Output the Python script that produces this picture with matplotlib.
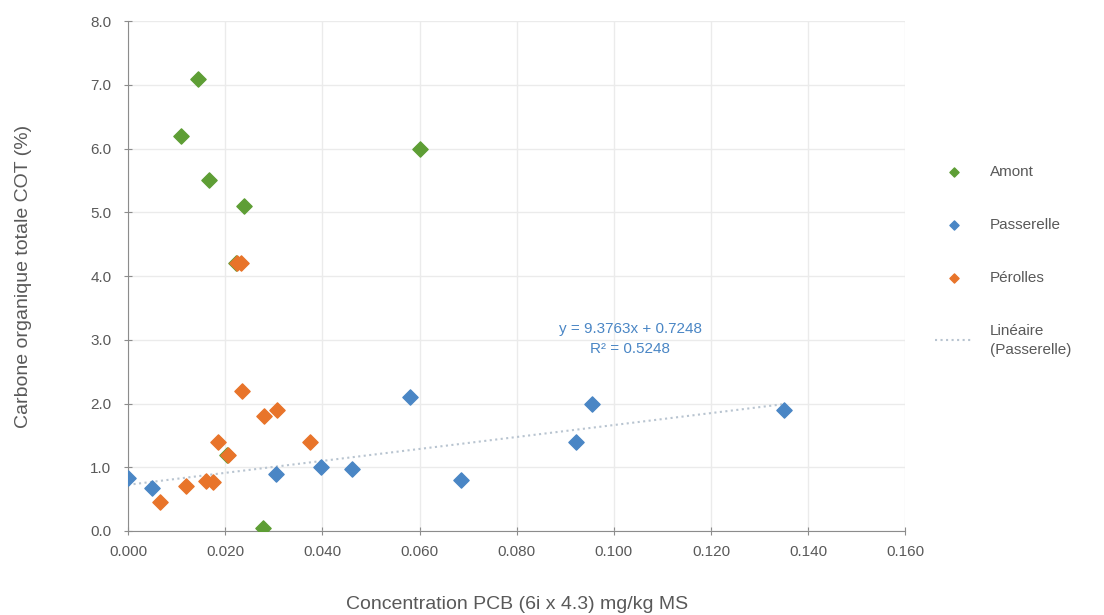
import matplotlib
matplotlib.use("Agg")
import matplotlib.pyplot as plt
import numpy as np

plt.rcParams['font.family'] = ['Liberation Sans', 'DejaVu Sans']

# Amont
amont_x = [0.0109, 0.0144, 0.0167, 0.0239, 0.0222, 0.0601, 0.0278, 0.0204]
amont_y = [6.2, 7.1, 5.5, 5.1, 4.2, 6.0, 0.05, 1.2]

# Passerelle
pass_x = [0.000, 0.0049, 0.0305, 0.0398, 0.0461, 0.0581, 0.0686, 0.0923, 0.0956, 0.135]
pass_y = [0.83, 0.67, 0.90, 1.00, 0.97, 2.10, 0.80, 1.40, 2.00, 1.90]

# Pérolles
per_x = [0.0066, 0.0119, 0.0160, 0.0175, 0.0185, 0.0206, 0.0235, 0.0280, 0.0307, 0.0375, 0.0225, 0.0232]
per_y = [0.45, 0.71, 0.78, 0.77, 1.40, 1.20, 2.20, 1.80, 1.90, 1.40, 4.20, 4.20]

slope, intercept = 9.3763, 0.7248

green = '#5E9E35'
blue = '#4A86C5'
orange = '#E8742A'
grey = '#595959'

fig = plt.figure(figsize=(11.04, 6.15), dpi=100)
ax = fig.add_axes([0.116, 0.1366, 0.704, 0.829])

ax.scatter(amont_x, amont_y, marker='D', s=60, color=green, label='Amont', zorder=3)
ax.scatter(pass_x, pass_y, marker='D', s=60, color=blue, label='Passerelle', zorder=3)
ax.scatter(per_x, per_y, marker='D', s=60, color=orange, label='Pérolles', zorder=3)

lx = np.array([0.0, max(pass_x)])
ax.plot(lx, slope * lx + intercept, linestyle=':', color='#B8C4D0', linewidth=1.5,
        label='Linéaire\n(Passerelle)', zorder=2)

ax.text(0.1034, 3.02, 'y = 9.3763x + 0.7248\nR² = 0.5248', color=blue,
        fontsize=11, ha='center', va='center', linespacing=1.55)

ax.set_xlim(0, 0.16)
ax.set_ylim(0, 8)
ax.set_xticks(np.arange(0, 0.161, 0.02))
ax.set_yticks(np.arange(0, 8.1, 1))
ax.set_xticklabels([f'{v:.3f}' for v in np.arange(0, 0.161, 0.02)])
ax.set_yticklabels([f'{v:.1f}' for v in np.arange(0, 8.1, 1)])
ax.grid(True, color='#EBEBEB', linewidth=1)
ax.set_axisbelow(True)
for s in ['top', 'right']:
    ax.spines[s].set_visible(False)
for s in ['left', 'bottom']:
    ax.spines[s].set_color('#8C8C8C')
ax.tick_params(colors='#8C8C8C', labelcolor=grey, labelsize=11, direction='inout',
               length=6, pad=9)
ax.tick_params(axis='x', pad=7)

ax.set_xlabel('Concentration PCB (6i x 4.3) mg/kg MS', fontsize=14, color=grey, labelpad=27)
ax.set_ylabel('Carbone organique totale COT (%)', fontsize=14, color=grey, labelpad=42)

leg = ax.legend(loc='upper left', bbox_to_anchor=(1.03, 0.73), frameon=False,
                fontsize=11, labelcolor=grey, markerscale=0.6, handlelength=2.5,
                handletextpad=1.1, labelspacing=2.55, scatterpoints=1, borderaxespad=0)
leg.get_texts()[3].set_linespacing(1.45)

fig.savefig('out.png', dpi=100)
